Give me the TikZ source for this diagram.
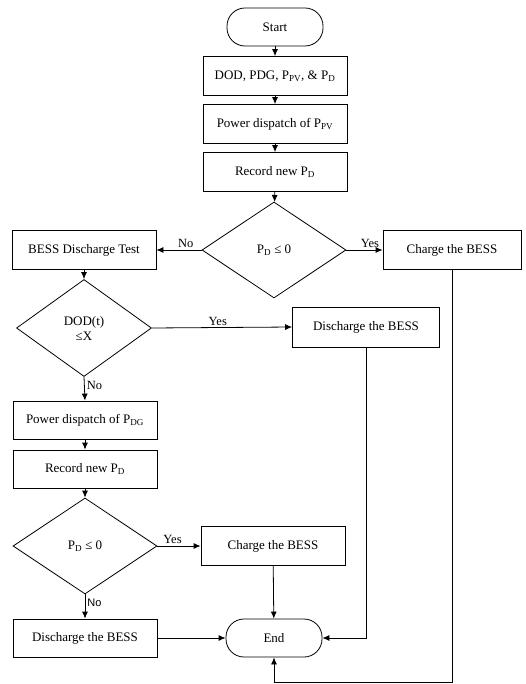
\documentclass[tikz,border=0pt]{standalone}
\usepackage{fontspec}
\setmainfont{Liberation Serif}
\newfontfamily\labelsans{Liberation Sans}
\usetikzlibrary{arrows.meta}
\usetikzlibrary{shapes.geometric}
\begin{document}
\begin{tikzpicture}[x=1pt,y=-1pt,font=\fontsize{13}{15}\selectfont,
  box/.style={draw,line width=0.8pt,minimum width=144pt,minimum height=39pt,inner sep=2pt},
  term/.style={draw,line width=0.8pt,rounded corners=18pt,minimum width=96pt,minimum height=38pt},
  test/.style={draw,line width=0.8pt,diamond,minimum width=144pt,minimum height=96pt,inner sep=0pt,align=center},
  arr/.style={-{Latex[length=7pt,width=6pt]},line width=0.8pt},
  lab/.style={font=\fontsize{12.5}{14}\selectfont,inner sep=2pt}]
\useasboundingbox (0,0) rectangle (525,684);
\node[term] (start) at (275,27) {Start};
\node[box] (inp) at (275,76) {DOD, PDG, P\textsubscript{PV}, \& P\textsubscript{D}};
\node[box] (pvd) at (275,124) {Power dispatch of P\textsubscript{PV}};
\node[box] (rec1) at (275,172) {Record new P\textsubscript{D}};
\node[test] (dec1) at (274,250) {P\textsubscript{D} ≤ 0};
\node[box] (bdt) at (84,250) {BESS Discharge Test};
\node[box,minimum width=138pt] (chg1) at (452,250) {Charge the BESS};
\node[test,minimum width=135pt,minimum height=97pt] (dec2) at (84,328) {DOD(t)\\≤X};
\node[box,minimum width=147pt,minimum height=40pt] (dis1) at (366,327) {Discharge the BESS};
\node[box,minimum height=38pt] (pdg) at (85,420) {Power dispatch of P\textsubscript{DG}};
\node[box,minimum height=38pt] (rec2) at (85,469) {Record new P\textsubscript{D}};
\node[test] (dec3) at (85,546) {P\textsubscript{D} ≤ 0};
\node[box] (chg2) at (273,546) {Charge the BESS};
\node[box,minimum height=38pt] (dis2) at (85,638) {Discharge the BESS};
\node[term] (fin) at (274,638) {End};
\coordinate (loop) at (452,682);
\draw[arr] (start) -- (inp);
\draw[arr] (inp) -- (pvd);
\draw[arr] (pvd) -- (rec1);
\draw[arr] (rec1) -- (dec1);
\draw[arr] (dec1.west) -- (bdt.east) node[lab,above,pos=0.35] {No};
\draw[arr] (dec1.east) -- (chg1.west) node[lab,above,pos=0.65] {Yes};
\draw[arr] (bdt) -- (dec2);
\draw[arr] (dec2.east) -- (dis1.west) node[lab,above,pos=0.47] {Yes};
\draw[arr] (dec2.south) -- (pdg.north) node[lab,right,pos=0.35] {No};
\draw[arr] (pdg) -- (rec2);
\draw[arr] (rec2) -- (dec3);
\draw[arr] (dec3.east) -- (chg2.west) node[lab,above,pos=0.35] {Yes};
\draw[arr] (dec3.south) -- (dis2.north) node[lab,right,pos=0.35,font=\labelsans\fontsize{11}{13}\selectfont] {No};
\draw[arr] (chg2) -- (fin);
\draw[arr] (dis2) -- (fin);
\draw[arr] (dis1.south) |- (fin.east);
\draw[arr] (chg1) -- (loop) -| (fin);
\end{tikzpicture}
\end{document}
